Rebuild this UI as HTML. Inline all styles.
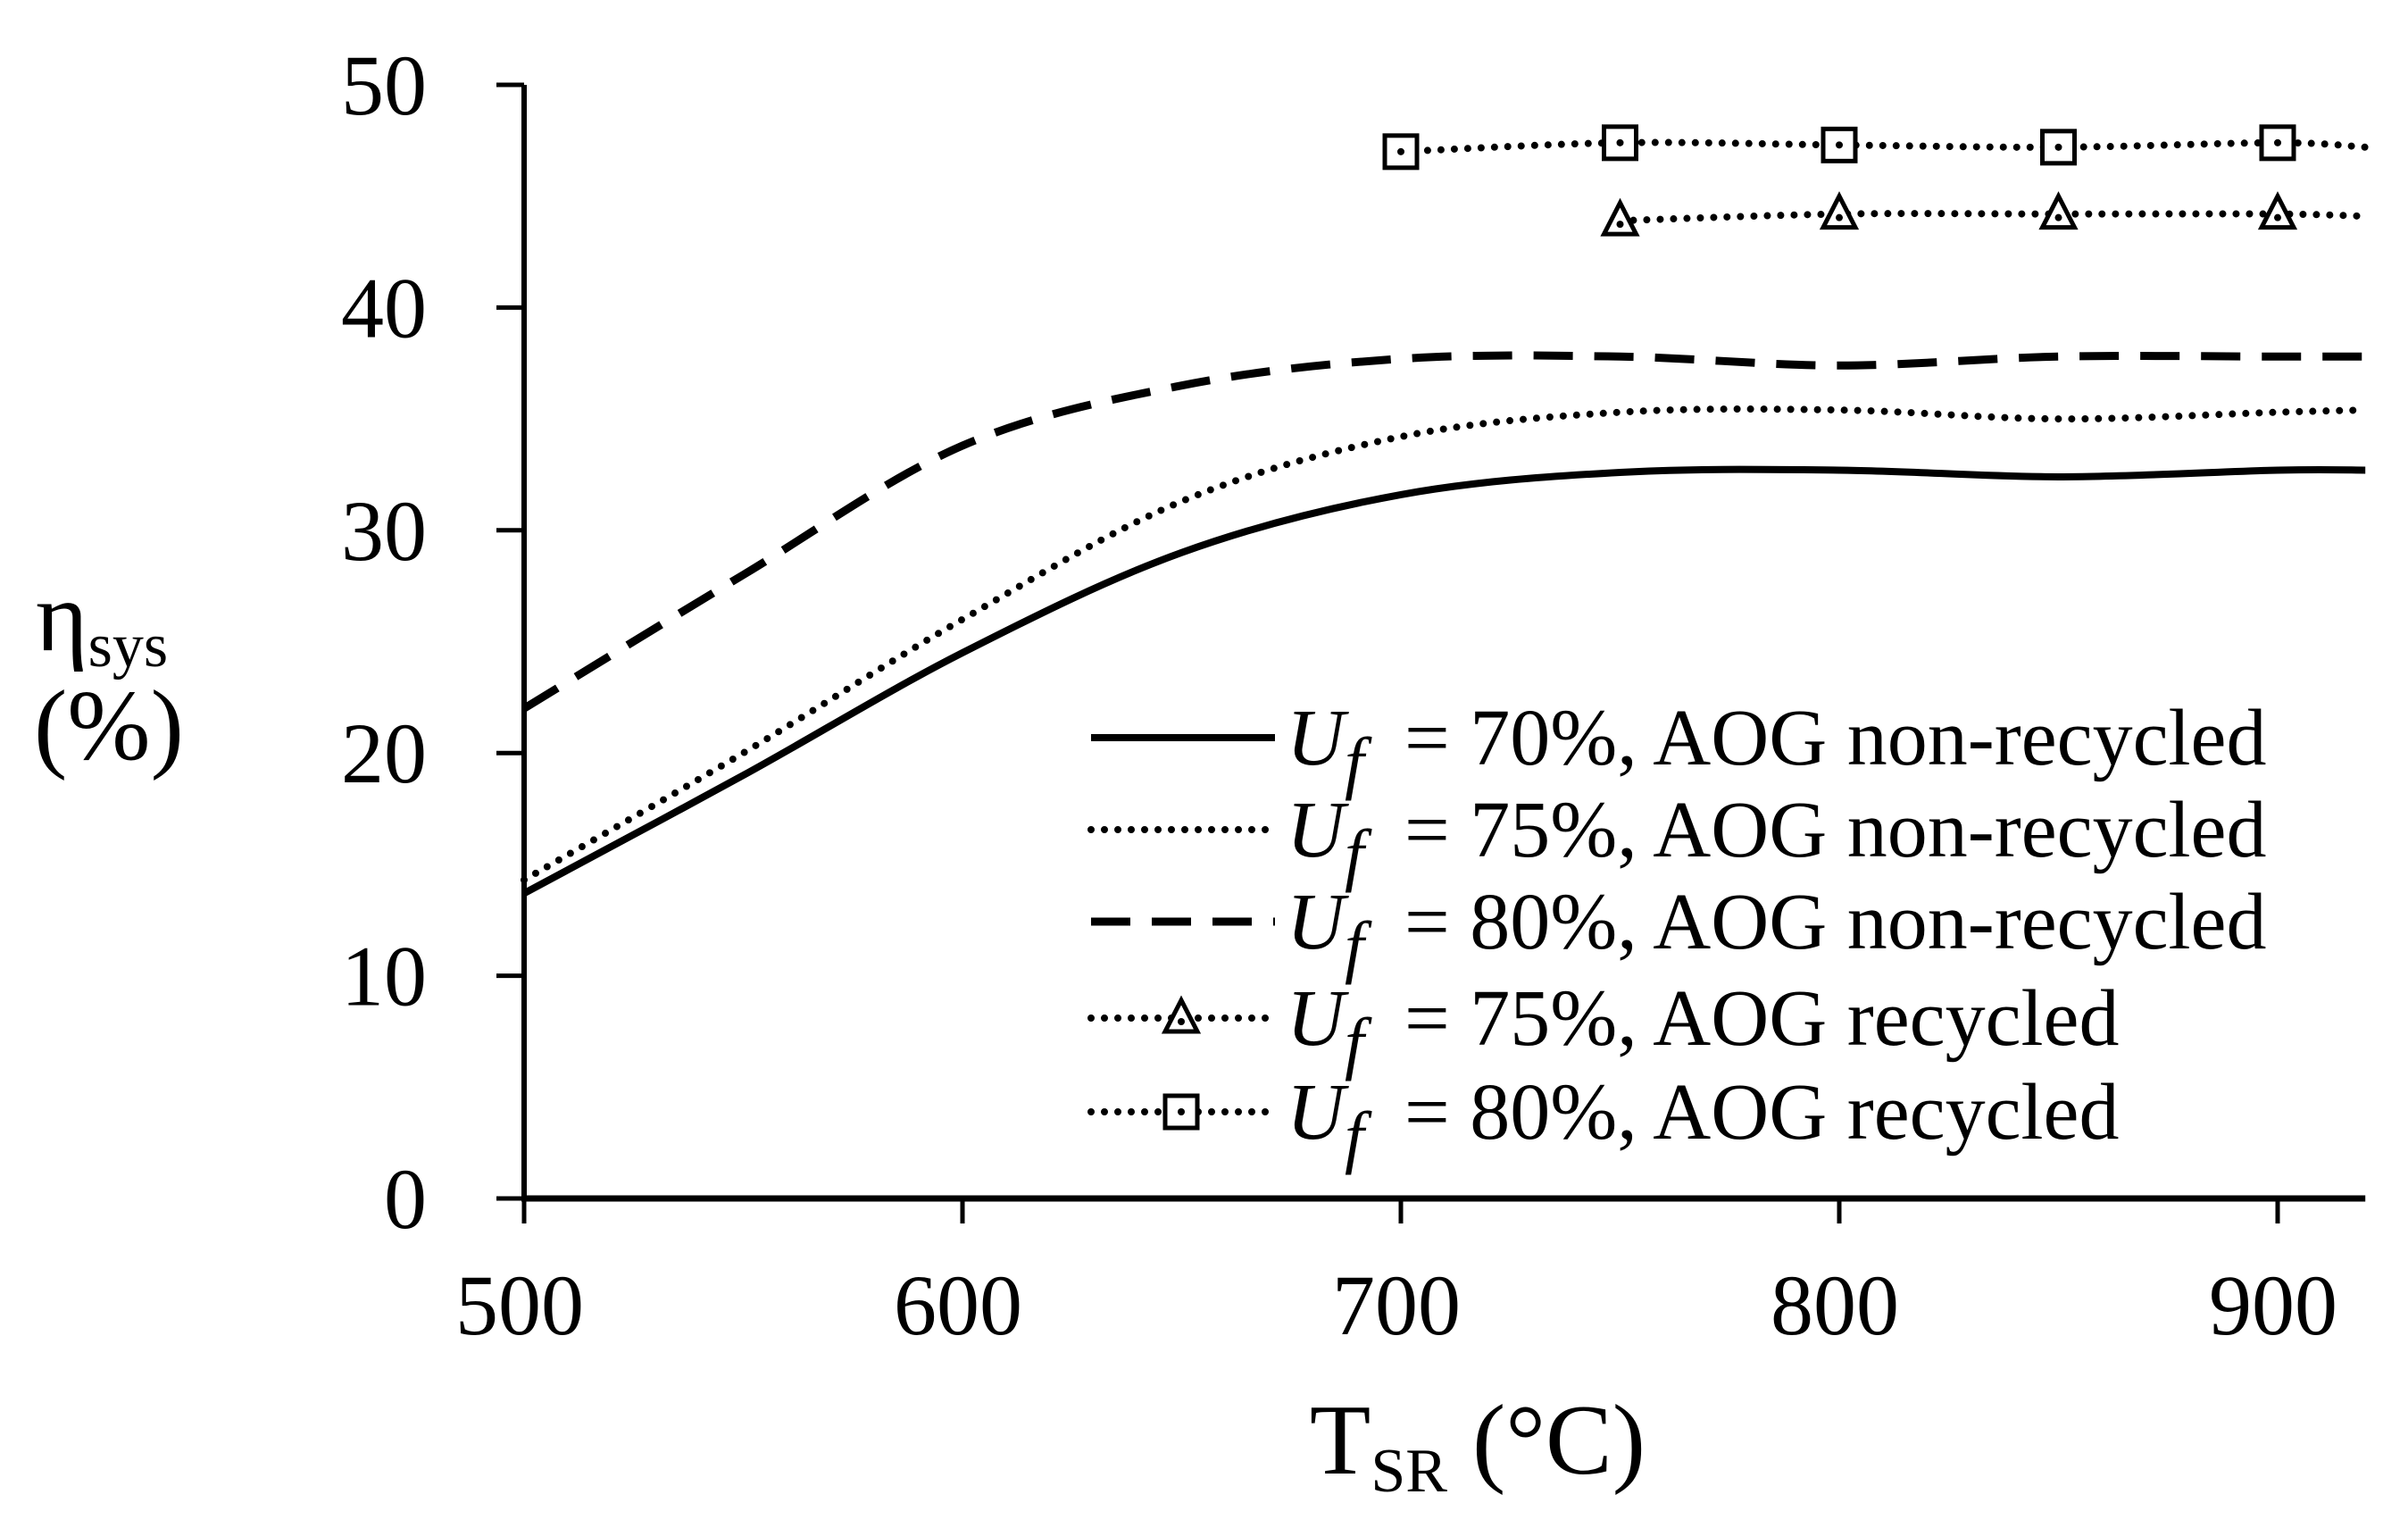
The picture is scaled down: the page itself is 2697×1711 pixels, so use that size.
<!DOCTYPE html>
<html><head><meta charset="utf-8"><style>
html,body{margin:0;padding:0;background:#fff;}
svg{display:block;font-family:"Liberation Serif",serif;}
</style></head><body>
<svg id="chart" width="2697" height="1711" viewBox="0 0 2697 1711" xmlns="http://www.w3.org/2000/svg">
<g id="axes"></g>
<g id="series"></g>
<g id="legend"></g>
<text x="40" y="728" font-size="112">η<tspan font-size="70" dy="18">sys</tspan></text>
<text x="38" y="850" font-size="112">(%)</text>
<text x="1655" y="1650" font-size="112" text-anchor="middle">T<tspan font-size="70" dy="20">SR</tspan><tspan dy="-20"> (°C)</tspan></text>
</svg>
<script>
const xTicks=[500,600,700,800,900];
const yTicks=[0,10,20,30,40,50];
const xBase=[500,550,600,650,700,750,800,850,900,920];
const uf70=[13.7,19,24.5,29,31.6,32.6,32.7,32.4,32.7,32.7];
const uf75=[14.3,20,26,31.3,34.2,35.3,35.4,35.0,35.3,35.4];
const uf80=[22,28,33.8,36.5,37.7,37.8,37.4,37.8,37.8,37.8];
const xRec75=[750,800,850,900,920];
const rec75=[43.9,44.2,44.2,44.2,44.1];
const xRec80=[700,750,800,850,900,920];
const rec80=[47.0,47.4,47.3,47.2,47.4,47.2];
const legendLabels=["= 70%, AOG non-recycled","= 75%, AOG non-recycled","= 80%, AOG non-recycled","= 75%, AOG recycled","= 80%, AOG recycled"];

const NS="http://www.w3.org/2000/svg";
const X0=587,XPER=4.91,Y0=1342,YPER=24.94;
const sx=v=>X0+(v-500)*XPER;
const sy=v=>Y0-v*YPER;
function mk(tag,attrs,parent){const e=document.createElementNS(NS,tag);for(const k in attrs)e.setAttribute(k,attrs[k]);parent.appendChild(e);return e;}
const axes=document.getElementById('axes');
const ser=document.getElementById('series');
const leg=document.getElementById('legend');

let e=mk('line',{x1:X0,y1:sy(0),x2:X0,y2:sy(50),stroke:'#000','stroke-width':6},axes);


e=mk('line',{x1:X0-3,y1:Y0,x2:sx(920),y2:Y0,stroke:'#000','stroke-width':7},axes);


yTicks.forEach(v=>{
  let t=mk('line',{x1:556,y1:sy(v),x2:X0,y2:sy(v),stroke:'#000','stroke-width':5},axes);
  
  
  let l=mk('text',{x:478,y:sy(v)+33,'font-size':96,'text-anchor':'end'},axes);
  l.textContent=v;
  
  
});
xTicks.forEach(v=>{
  let t=mk('line',{x1:sx(v),y1:Y0,x2:sx(v),y2:1370,stroke:'#000','stroke-width':5},axes);
  
  
  let l=mk('text',{x:sx(v)-5,y:1494,'font-size':96,'text-anchor':'middle'},axes);
  l.textContent=v;
  
  
});
function smooth(xs,ys){
  const p=xs.map((x,i)=>[sx(x),sy(ys[i])]);
  let d='M'+p[0][0]+','+p[0][1];
  for(let i=0;i<p.length-1;i++){
    const p0=p[i-1]||p[i],p1=p[i],p2=p[i+1],p3=p[i+2]||p2;
    const c1=[p1[0]+(p2[0]-p0[0])/6,p1[1]+(p2[1]-p0[1])/6];
    const c2=[p2[0]-(p3[0]-p1[0])/6,p2[1]-(p3[1]-p1[1])/6];
    d+=' C'+c1+' '+c2+' '+p2;
  }
  return d;
}
const styles={solid:{'stroke-width':8},dot:{'stroke-width':8,'stroke-dasharray':'0 15','stroke-linecap':'round'},dash:{'stroke-width':9,'stroke-dasharray':'44 24'}};
function path(d,st,parent){const a={d:d,fill:'none',stroke:'#000'};Object.assign(a,styles[st]);return mk('path',a,parent);}
e=path(smooth(xBase,uf70),'solid',ser);


e=path(smooth(xBase,uf75),'dot',ser);


e=path(smooth(xBase,uf80),'dash',ser);


e=path(smooth(xRec75,rec75),'dot',ser);


e=path(smooth(xRec80,rec80),'dot',ser);


function square(cx,cy,p){const g=mk('g',{},p);mk('rect',{x:cx-18,y:cy-18,width:36,height:36,fill:'#fff',stroke:'#000','stroke-width':5},g);mk('circle',{cx:cx,cy:cy,r:4,fill:'#000'},g);return g;}
function tri(cx,cy,p){const g=mk('g',{},p);mk('polygon',{points:(cx)+','+(cy-20)+' '+(cx-18)+','+(cy+15)+' '+(cx+18)+','+(cy+15),fill:'#fff',stroke:'#000','stroke-width':5},g);mk('circle',{cx:cx,cy:cy+4,r:4,fill:'#000'},g);return g;}
xRec80.forEach((x,i)=>{if(x>900)return;
  const m=square(sx(x),sy(rec80[i]),ser);
  
  
});
xRec75.forEach((x,i)=>{if(x>900)return;
  const m=tri(sx(x),sy(rec75[i]),ser);
  
  
});
const rowsY=[826,929,1032,1140,1245];
const legStyles=['solid','dot','dash','dot','dot'];
legendLabels.forEach((lab,i)=>{
  const g=mk('g',{},leg);
  
  
  const y=rowsY[i];
  path('M1222,'+y+' L1428,'+y,legStyles[i],g);
  if(i===3)tri(1323,y,g);
  if(i===4)square(1323,y,g);
  const t=mk('text',{x:1441,y:y+30,'font-size':90},g);
  const u=mk('tspan',{'font-style':'italic'},t);u.textContent='U';
  const f=mk('tspan',{'font-style':'italic',dy:24,'font-size':78},t);f.textContent='f';
  const r=mk('tspan',{dy:-24,x:1573},t);r.textContent=lab;
});
</script>
</body></html>
